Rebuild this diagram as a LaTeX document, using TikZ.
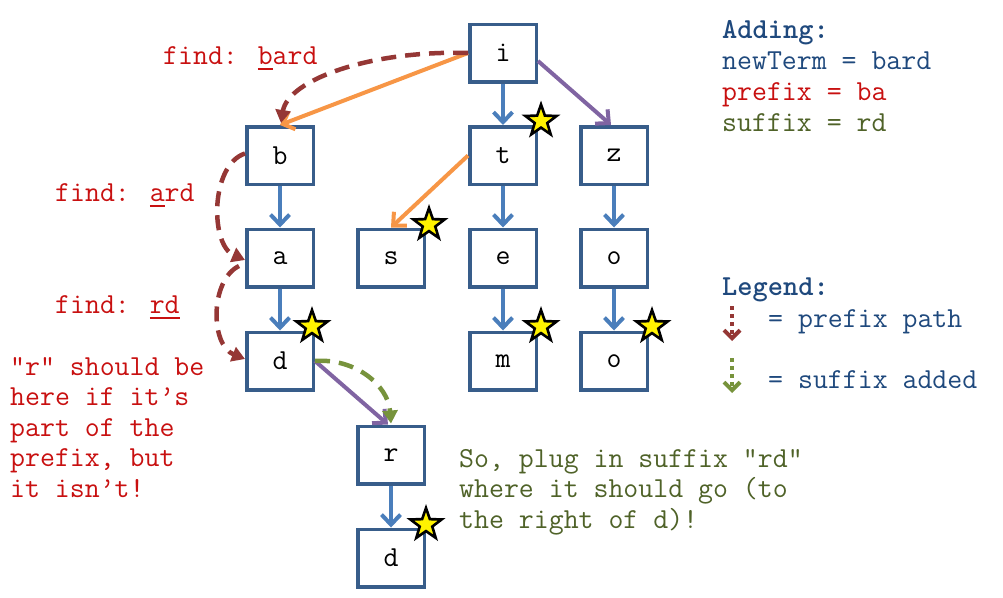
\documentclass[tikz,border=0pt]{standalone}
\usetikzlibrary{arrows.meta,shapes.geometric,calc}
\definecolor{boxc}{RGB}{56,93,138}
\definecolor{arrb}{RGB}{74,126,187}
\definecolor{orng}{RGB}{247,150,70}
\definecolor{purp}{RGB}{128,100,162}
\definecolor{brwn}{RGB}{149,55,53}
\definecolor{grn}{RGB}{119,147,60}
\definecolor{redt}{RGB}{200,16,16}
\definecolor{bluet}{RGB}{31,73,125}
\definecolor{grnt}{RGB}{79,98,40}
\newcommand\myul[1]{\setbox0\hbox{#1}\rlap{\rule[-6pt]{\wd0}{1.6pt}}#1}
\begin{document}
\begin{tikzpicture}[x=1pt,y=-1pt,
  font=\ttfamily\fontsize{29}{30.5}\selectfont,
  box/.style={draw=boxc,line width=3.5pt,minimum width=66.5pt,minimum height=57.5pt,inner sep=0pt},
  starx/.style={star,star points=5,star point ratio=2.5,fill=yellow,draw=black,line width=2.6pt,minimum size=33pt,inner sep=0pt},
  barrow/.style={draw=arrb,line width=4pt,-{Straight Barb[length=10pt,width=19pt]}},
  oarrow/.style={draw=orng,line width=4pt,-{Straight Barb[length=10pt,width=19pt]}},
  parrow/.style={draw=purp,line width=4pt,-{Straight Barb[length=10pt,width=19pt]}},
  brdash/.style={draw=brwn,line width=4.5pt,dash pattern=on 15pt off 9pt,-{Triangle[length=13pt,width=15pt]}},
  grdash/.style={draw=grn,line width=4.5pt,dash pattern=on 15pt off 9pt,-{Triangle[length=13pt,width=15pt]}},
  txt/.style={anchor=base west,inner sep=0pt}]
\useasboundingbox (0,0) rectangle (1003,597);
% boxes
\node[box] (i) at (503,53) {i};
\node[box] (b) at (280,155.5) {b};
\node[box] (t) at (503,155.5) {t};
\node[box] (z) at (614,155.5) {z};
\node[box] (a) at (280,258) {a};
\node[box] (s) at (391,258) {s};
\node[box] (e) at (503,258) {e};
\node[box] (o1) at (614,258) {o};
\node[box] (d1) at (280,361) {d};
\node[box] (m) at (503,361) {m};
\node[box] (o2) at (614,361) {o};
\node[box] (r) at (391,455) {r};
\node[box] (d2) at (391,558) {d};
% blue arrows
\draw[barrow] (i.south) -- (t.north);
\draw[barrow] (b.south) -- (a.north);
\draw[barrow] (a.south) -- (d1.north);
\draw[barrow] (t.south) -- (e.north);
\draw[barrow] (e.south) -- (m.north);
\draw[barrow] (z.south) -- (o1.north);
\draw[barrow] (o1.south) -- (o2.north);
\draw[barrow] (r.south) -- (d2.north);
% orange / purple
\draw[oarrow] (i.west) -- (b.north);
\draw[oarrow] (t.west) -- (s.north);
\draw[parrow] ($(i.east)+(0,8)$) -- ($(z.north)+(-3,0)$);
\draw[parrow] (d1.east) -- ($(r.north)+(-3,0)$);
% dashed paths
\draw[brdash] (i.west) .. controls (370,50) and (288,80) .. ($(b.north)+(1,-2)$);
\draw[brdash] ($(b.west)+(0,-2)$) .. controls (210,165) and (210,245) .. ($(a.west)+(0,2)$);
\draw[brdash] ($(a.west)+(-6,8)$) .. controls (210,280) and (210,345) .. ($(d1.west)+(0,-2)$);
\draw[grdash] (d1.east) .. controls (355,358) and (388,385) .. ($(r.north)+(0,-1)$);
% stars
\node[starx] (st1) at ($(t.north east)+(3,-4)$) {};
\node[starx] (st2) at ($(s.north east)+(3,-3)$) {};
\node[starx] (st3) at ($(m.north east)+(3,-4)$) {};
\node[starx] (st4) at ($(o2.north east)+(3,-4)$) {};
\node[starx] (st5) at ($(d1.north east)+(-3,-4)$) {};
\node[starx] (st6) at ($(d2.north east)+(0,-3)$) {};
% left texts
\node[txt,text=redt] (fb) at (163,64) {find: \myul{b}ard};
\node[txt,text=redt] (fa) at (55,201) {find: \myul{a}rd};
\node[txt,text=redt] (fr) at (55,313) {find: \myul{rd}};
\node[txt,text=redt] (l1) at (10,375) {"r" should be};
\node[txt,text=redt] (l2) at (10,405.5) {here if it’s};
\node[txt,text=redt] (l3) at (10,436) {part of the};
\node[txt,text=redt] (l4) at (10,466.5) {prefix, but};
\node[txt,text=redt] (l5) at (10,497) {it isn’t!};
% right texts
\node[txt,text=bluet,font=\ttfamily\bfseries\fontsize{29}{30.5}\selectfont] (ad) at (722,38) {Adding:};
\node[txt,text=bluet] (nt) at (722,69) {newTerm = bard};
\node[txt,text=redt] (pf) at (722,100) {prefix = ba};
\node[txt,text=grnt] (sf) at (722,131) {suffix = rd};
\node[txt,text=bluet,font=\ttfamily\bfseries\fontsize{29}{30.5}\selectfont] (lg) at (722,295) {Legend:};
\node[txt,text=bluet] (lp) at (768,327) {= prefix path};
\node[txt,text=bluet] (ls) at (768,388) {= suffix added};
\coordinate (la1) at (732,306);
\coordinate (la2) at (732,341);
\coordinate (lb1) at (732,358);
\coordinate (lb2) at (732,393);
\draw[draw=brwn,line width=4pt,dash pattern=on 4pt off 4pt,-{Straight Barb[length=8pt,width=16pt]}] (la1) -- (la2);
\draw[draw=grn,line width=4pt,dash pattern=on 4pt off 4pt,-{Straight Barb[length=8pt,width=16pt]}] (lb1) -- (lb2);
% bottom text
\node[txt,text=grnt] (g1) at (459,467) {So, plug in suffix "rd"};
\node[txt,text=grnt] (g2) at (459,497) {where it should go (to};
\node[txt,text=grnt] (g3) at (459,528) {the right of d)!};
\end{tikzpicture}
\end{document}
